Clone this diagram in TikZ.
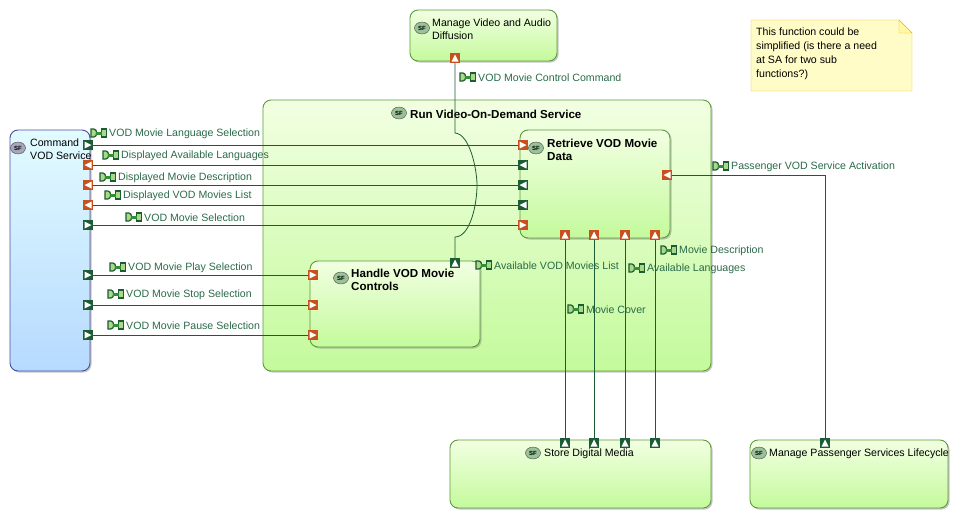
\documentclass[tikz,border=0pt]{standalone}
\usepackage{fontspec}
\setmainfont{Liberation Sans}
\usetikzlibrary{shapes.geometric,shadows}

\definecolor{flowgreen}{HTML}{1C5C34}
\definecolor{flowred}{HTML}{C8501E}
\definecolor{blockedge}{HTML}{5E9A3C}
\definecolor{labeltext}{HTML}{2A6A48}
\definecolor{greentop}{HTML}{F2FFE2}
\definecolor{greenbottom}{HTML}{C4FA9C}
\definecolor{bluetop}{HTML}{E2FBFF}
\definecolor{bluebottom}{HTML}{B6DAFF}
\definecolor{iconfill}{HTML}{A8D888}

\tikzset{
    block/.style={draw=blockedge, line width=0.9pt, rounded corners=8pt, anchor=north west, inner sep=0pt, outer sep=0pt,
        drop shadow={shadow xshift=1.5pt, shadow yshift=-1.5pt, fill=black!45, opacity=0.5}},
    greenblock/.style={block, top color=greentop, bottom color=greenbottom},
    blueblock/.style={block, top color=bluetop, bottom color=bluebottom, draw=blue!50!black!70},
    title/.style={anchor=west, align=left, inner sep=0pt, font=\fontsize{10.6}{13}\selectfont},
    btitle/.style={title, font=\fontsize{11.6}{13}\selectfont\bfseries},
    sficon/.style={ellipse, draw=black!70, fill=#1, inner sep=0pt, minimum width=15pt, minimum height=12pt,
        font=\fontsize{6}{6}\selectfont\bfseries},
    sficon/.default={green!40!black!40},
    flow/.style={draw=flowgreen, line width=0.8pt},
    flowtext/.style={anchor=west, inner sep=0pt, text=labeltext, font=\fontsize{10.6}{13}\selectfont},
    port/.style={rectangle, fill=#1, inner sep=0pt, minimum size=10pt, outer sep=0pt},
    portright/.style={port=#1, path picture={\fill[white, shift={(path picture bounding box.center)}] (-3.5,-3.5) -- (3.5,0) -- (-3.5,3.5) -- cycle;}},
    portleft/.style={port=#1, path picture={\fill[white, shift={(path picture bounding box.center)}] (3.5,-3.5) -- (-3.5,0) -- (3.5,3.5) -- cycle;}},
    portup/.style={port=#1, path picture={\fill[white, shift={(path picture bounding box.center)}] (-3.5,3.5) -- (0,-3.5) -- (3.5,3.5) -- cycle;}},
    flowicon/.pic={
        \draw[flowgreen, line width=1.2pt, fill=iconfill] (0,-4) -- (3,-4) .. controls (6.5,-4) and (6.5,4) .. (3,4) -- (0,4) -- cycle;
        \draw[flowgreen, line width=1.2pt, fill=iconfill] (10.5,-4) rectangle (15.5,4);
        \fill[green!45!black!80] (5,-1.5) rectangle (11,1.5);
    }
}

\newcommand{\flowlabel}[4]{
    \path (#2,#3) pic {flowicon};
    \node[flowtext] (#1) at (#2+18,#3+1) {#4};
}

\begin{document}
\begin{tikzpicture}[x=1pt,y=-1pt]
    \useasboundingbox (0,0) rectangle (961,520);

    % blocks
    \node[greenblock, minimum width=448pt, minimum height=271pt] (run) at (263,100) {};
    \node[blueblock, minimum width=80pt, minimum height=241pt] (command) at (10,130) {};
    \node[greenblock, minimum width=147pt, minimum height=51pt] (manage) at (410,10) {};
    \node[greenblock, minimum width=150pt, minimum height=108pt] (retrieve) at (520,130) {};
    \node[greenblock, minimum width=170pt, minimum height=86pt] (handle) at (310,261) {};
    \node[greenblock, minimum width=261pt, minimum height=68pt] (store) at (450,440) {};
    \node[greenblock, minimum width=198pt, minimum height=68pt] (lifecycle) at (750,440) {};

    % titles
    \node[sficon=blue!25!black!35] (sfcommand) at (18,148) {SF};
    \node[title] (tcommand) at (30,149.5) {Command\\VOD Service};
    \node[sficon] (sfmanage) at (422,28) {SF};
    \node[title] (tmanage) at (432,29.5) {Manage Video and Audio\\Diffusion};
    \node[sficon] (sfrun) at (399,113) {SF};
    \node[btitle] (trun) at (410,114) {Run Video-On-Demand Service};
    \node[sficon] (sfretrieve) at (536,148) {SF};
    \node[btitle] (tretrieve) at (547,149.5) {Retrieve VOD Movie\\Data};
    \node[sficon] (sfhandle) at (341,278) {SF};
    \node[btitle] (thandle) at (351,279.5) {Handle VOD Movie\\Controls};
    \node[sficon] (sfstore) at (533,453) {SF};
    \node[title] (tstore) at (544,454) {Store Digital Media};
    \node[sficon] (sflifecycle) at (759,453) {SF};
    \node[title] (tlifecycle) at (769,454) {Manage Passenger Services Lifecycle};

    % note
    \draw[draw=orange!60!yellow, fill=yellow!22!white] (751,20) -- (899,20) -- (912,33) -- (912,91) -- (751,91) -- cycle;
    \draw[draw=orange!60!yellow, fill=yellow!35!white] (899,20) -- (899,33) -- (912,33) -- cycle;
    \node[title, anchor=north west, font=\fontsize{10.6}{14}\selectfont] (note) at (756,28) {This function could be\\simplified (is there a need\\at SA for two sub\\functions?)};

    % ports
    \foreach \y/\n in {145/a,225/e,275/f,305/g,335/h}
        \node[portright=flowgreen] (c\n) at (88,\y) {};
    \foreach \y/\n in {165/b,185/c,205/d}
        \node[portleft=flowred] (c\n) at (88,\y) {};
    \foreach \y/\n in {145/a,225/e}
        \node[portright=flowred] (r\n) at (523,\y) {};
    \foreach \y/\n in {165/b,185/c,205/d}
        \node[portleft=flowgreen] (r\n) at (523,\y) {};
    \foreach \y/\n in {275/f,305/g,335/h}
        \node[portright=flowred] (h\n) at (313,\y) {};
    \foreach \x/\n in {565/p,594/q,625/r,655/s}{
        \node[portup=flowred] (r\n) at (\x,235) {};
        \node[portup=flowgreen] (s\n) at (\x,443) {};
    }
    \node[portleft=flowred] (ractive) at (667,175) {};
    \node[portup=flowgreen] (lactive) at (825,443) {};
    \node[portup=flowgreen] (hcontrol) at (455,263) {};
    \node[portup=flowred] (mcontrol) at (455,58) {};

    % connectors
    \foreach \n in {a,b,c,d,e}
        \draw[flow] (c\n) -- (r\n);
    \foreach \n in {f,g,h}
        \draw[flow] (c\n) -- (h\n);
    \foreach \n in {p,q,r,s}
        \draw[flow] (r\n) -- (s\n);
    \draw[flow] (ractive) -| (lactive);
    \draw[flow] (mcontrol) -- (455,133) .. controls (470,134) and (477,170) .. (477,185)
        .. controls (477,205) and (470,237) .. (455,237) -- (hcontrol);

    % flow labels
    \flowlabel{lselect}{91}{133}{VOD Movie Language Selection}
    \flowlabel{llang}{103}{155}{Displayed Available Languages}
    \flowlabel{ldesc}{100}{177}{Displayed Movie Description}
    \flowlabel{llist}{105}{195}{Displayed VOD Movies List}
    \flowlabel{lmovie}{126}{217}{VOD Movie Selection}
    \flowlabel{lplay}{110}{267}{VOD Movie Play Selection}
    \flowlabel{lstop}{108}{294}{VOD Movie Stop Selection}
    \flowlabel{lpause}{108}{325}{VOD Movie Pause Selection}
    \flowlabel{lcontrol}{460}{77}{VOD Movie Control Command}
    \flowlabel{lavail}{476}{265}{Available VOD Movies List}
    \flowlabel{lalang}{629}{268}{Available Languages}
    \flowlabel{lmdesc}{661}{250}{Movie Description}
    \flowlabel{lcover}{568}{309}{Movie Cover}
    \flowlabel{lactivate}{713}{166}{Passenger VOD Service Activation}
\end{tikzpicture}
\end{document}
